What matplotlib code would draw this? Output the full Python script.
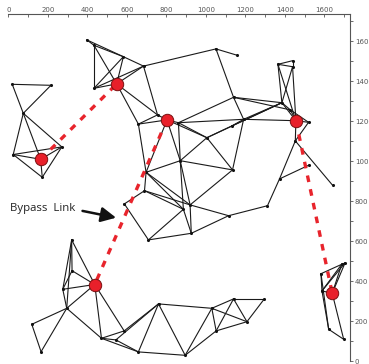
import matplotlib
matplotlib.use("Agg")
import matplotlib.pyplot as plt

# node positions (data units)
node_names = ["L1", "L2", "L3", "L4", "L5", "L6", "R0",
              "A", "B", "C", "D", "E", "R1",
              "N1", "N2", "N3", "R2", "N4", "N5", "N6", "N7", "N8", "N9",
              "N10", "N11", "N12", "N13", "R3", "N14", "N15",
              "N16", "N17", "N18", "N19", "N20", "N21", "N22", "N23", "N24",
              "N25", "N26", "N27", "N28", "N29", "N30",
              "P1", "P2", "P3", "R4", "P4", "P5", "P6", "P7", "P8", "P9",
              "P10", "P11", "P12", "Q1", "Q2", "Q3", "Q4", "Q5",
              "S1", "S2", "S3", "S4", "R5", "S5", "S6"]
node_x = [19, 215, 75, 270, 24, 171, 163,
          397, 433, 582, 684, 433, 548,
          1051, 1159, 1140, 803, 658, 861, 755, 1191, 1005, 1132,
          1385, 1365, 1439, 1439, 1456, 1520, 1428,
          870, 1135, 697, 689, 587, 920, 886, 709, 926,
          1115, 1312, 1373, 1453, 1524, 1642,
          320, 322, 275, 437, 295, 118, 165, 471, 544, 586,
          658, 760, 895, 1030, 1140, 1296, 1208, 1052,
          1583, 1688, 1705, 1588, 1640, 1622, 1698]
node_y = [1385, 1380, 1240, 1072, 1034, 920, 1010,
          1607, 1580, 1523, 1476, 1365, 1387,
          1562, 1530, 1320, 1207, 1186, 1193, 1232, 1210, 1118, 1177,
          1293, 1485, 1503, 1473, 1203, 1195, 1257,
          1003, 957, 945, 853, 787, 782, 760, 607, 640,
          728, 778, 912, 1102, 982, 880,
          607, 453, 360, 384, 265, 185, 48, 115, 107, 152,
          47, 287, 30, 265, 312, 312, 198, 152,
          438, 485, 492, 352, 340, 160, 110]

hubs = ["R0", "R1", "R2", "R3", "R4", "R5"]
bypass = [("R0", "R1"), ("R2", "R4"), ("R3", "R5")]

edges = [
    # left cluster
    ("L1", "L2"), ("L1", "L3"), ("L2", "L3"), ("L3", "L5"), ("L3", "R0"),
    ("L3", "L4"), ("L5", "L4"), ("L5", "R0"), ("L5", "L6"), ("L4", "R0"),
    ("L4", "L6"), ("R0", "L6"),
    # upper-left cluster
    ("A", "B"), ("A", "C"), ("B", "C"), ("B", "E"), ("B", "R1"), ("C", "R1"),
    ("C", "E"), ("C", "D"), ("E", "R1"), ("E", "D"), ("R1", "D"),
    ("R1", "N4"), ("R1", "N6"), ("D", "N6"), ("D", "N1"),
    # centre
    ("N1", "N2"), ("N1", "N3"), ("N3", "N5"), ("N3", "N10"), ("N3", "N7"),
    ("N3", "N15"), ("N4", "R2"), ("N4", "N6"), ("N6", "R2"), ("R2", "N5"),
    ("N5", "N7"), ("N7", "R3"), ("N5", "N8"), ("R2", "N8"), ("N8", "N9"),
    ("N9", "N10"), ("N8", "N10"), ("N7", "N10"), ("N7", "N9"), ("N7", "N17"),
    ("N10", "N11"), ("N10", "N13"), ("N11", "N12"), ("N11", "N13"),
    ("N12", "N13"), ("N11", "R3"), ("N13", "R3"), ("N10", "R3"),
    ("N15", "R3"), ("N15", "N14"), ("R3", "N14"), ("N10", "N15"),
    ("N4", "N18"), ("R2", "N18"), ("R2", "N16"), ("N5", "N16"),
    ("N16", "N18"), ("N16", "N17"), ("N16", "N8"), ("N16", "N21"),
    ("N16", "N22"), ("N8", "N17"), ("N17", "N21"), ("N18", "N19"),
    ("N18", "N21"), ("N18", "N22"), ("N19", "N20"), ("N19", "N21"),
    ("N19", "N22"), ("N20", "N23"), ("N22", "N23"), ("N22", "N24"),
    ("N21", "N24"), ("N21", "N25"), ("N24", "N25"), ("N23", "N24"),
    ("N25", "N26"), ("N26", "N27"), ("N27", "N28"), ("N27", "N29"),
    ("N28", "N30"), ("N28", "R3"), ("N28", "N14"),
    # lower-left cluster
    ("P1", "P2"), ("P1", "P3"), ("P1", "R4"), ("P1", "P4"), ("P2", "R4"),
    ("P2", "P3"), ("P3", "R4"), ("P3", "P4"), ("P4", "R4"), ("P4", "P5"),
    ("P5", "P6"), ("P4", "P6"), ("P4", "P7"), ("R4", "P7"), ("R4", "P9"),
    ("P7", "P8"), ("P7", "P9"), ("P7", "P10"), ("P8", "P10"), ("P8", "P11"),
    ("P9", "P11"), ("P10", "P11"), ("P11", "P12"), ("P10", "P12"),
    ("P11", "Q1"), ("P12", "Q1"), ("Q1", "Q2"), ("Q1", "Q5"), ("Q1", "Q4"),
    ("Q2", "Q3"), ("Q2", "Q4"), ("Q2", "Q5"), ("Q3", "Q4"), ("Q5", "Q4"),
    ("Q5", "P12"),
    # right cluster
    ("S1", "S2"), ("S1", "S4"), ("S1", "S5"), ("S2", "S4"), ("S3", "S4"),
    ("S3", "R5"), ("S2", "R5"), ("S4", "S5"), ("S4", "R5"), ("R5", "S6"),
    ("S5", "S6"), ("S2", "S3"),
]

pos = {n: (x, y) for n, x, y in zip(node_names, node_x, node_y)}

fig = plt.figure(figsize=(3.69, 3.64), dpi=100)
ax = fig.add_axes([0.023, 0.0074, 0.9255, 0.9533])
ax.set_xlim(0, 1730)
ax.set_ylim(0, 1735)

for a, b in edges:
    ax.plot([pos[a][0], pos[b][0]], [pos[a][1], pos[b][1]],
            color="#1a1a1a", lw=0.8, zorder=1)

small = [n for n in node_names if n not in hubs]
ax.scatter([pos[n][0] for n in small], [pos[n][1] for n in small],
           s=5, c="#111", zorder=2, linewidths=0)

for a, b in bypass:
    ax.plot([pos[a][0], pos[b][0]], [pos[a][1], pos[b][1]],
            color="#e8242c", lw=2.4, ls=(0, (2.0, 2.2)), zorder=3)

ax.scatter([pos[n][0] for n in hubs], [pos[n][1] for n in hubs],
           s=80, c="#e8202a", edgecolors="#7a1010", linewidths=0.7, zorder=4)

ax.annotate("", xy=(545, 718), xytext=(375, 752),
            arrowprops=dict(arrowstyle="-|>,head_length=0.9,head_width=0.45",
                            lw=1.8, color="#111", shrinkA=0, shrinkB=0))
ax.text(8, 762, "Bypass  Link", fontsize=8.2, color="#222",
        va="center", ha="left", family="Open Sans")

for side in ["left", "bottom"]:
    ax.spines[side].set_visible(False)
for side in ["top", "right"]:
    ax.spines[side].set_color("#555")
    ax.spines[side].set_linewidth(0.8)
ax.xaxis.tick_top()
ax.yaxis.tick_right()
ax.set_xticks(range(0, 1800, 200))
ax.set_xticks(range(0, 1800, 100), minor=True)
ax.set_yticks(range(0, 1800, 200))
ax.set_yticks(range(0, 1800, 100), minor=True)
ax.tick_params(axis="both", which="both", direction="in", length=2.5,
               width=0.6, color="#555", labelsize=5, labelcolor="#555", pad=1)
ax.tick_params(axis="y", which="both", direction="out")

fig.savefig("out.png", dpi=100)
